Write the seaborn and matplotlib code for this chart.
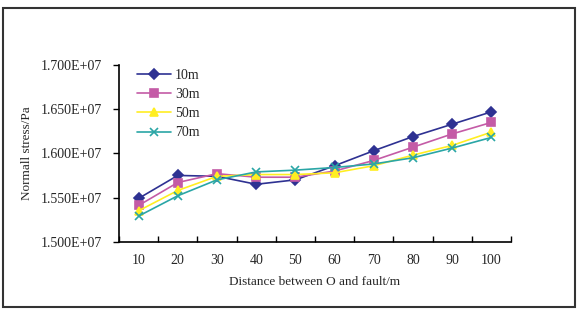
import numpy as np
import pandas as pd
import matplotlib.pyplot as plt
import seaborn as sns
from matplotlib.patches import Rectangle

# distance between O and fault (m)
distances = [10, 20, 30, 40, 50, 60, 70, 80, 90, 100]
series_names = ['10m', '30m', '50m', '70m']

# normal stress, Pa
stress_10m = [1.549e7, 1.575e7, 1.574e7, 1.565e7, 1.570e7, 1.586e7, 1.603e7, 1.619e7, 1.633e7, 1.647e7]
stress_30m = [1.541e7, 1.567e7, 1.577e7, 1.573e7, 1.573e7, 1.580e7, 1.592e7, 1.607e7, 1.622e7, 1.635e7]
stress_50m = [1.535e7, 1.558e7, 1.574e7, 1.576e7, 1.576e7, 1.578e7, 1.586e7, 1.598e7, 1.609e7, 1.624e7]
stress_70m = [1.529e7, 1.552e7, 1.570e7, 1.579e7, 1.581e7, 1.584e7, 1.588e7, 1.595e7, 1.606e7, 1.618e7]

y_ticks = [1.50e7, 1.55e7, 1.60e7, 1.65e7, 1.70e7]
y_tick_labels = ['1.500E+07', '1.550E+07', '1.600E+07', '1.650E+07', '1.700E+07']

df = pd.DataFrame({
    'pos': list(range(len(distances))) * 4,
    'stress': stress_10m + stress_30m + stress_50m + stress_70m,
    'series': [s for s in series_names for _ in distances],
})

sns.set_style('white')
plt.rcParams['font.family'] = ['Liberation Serif', 'DejaVu Serif']

colors = {'10m': '#2e3192', '30m': '#c45ba6', '50m': '#ffee22', '70m': '#2aa6a6'}
markers = {'10m': 'D', '30m': 's', '50m': '^', '70m': 'x'}
msizes = {'10m': 5.5, '30m': 5.5, '50m': 6, '70m': 5.5}

fig = plt.figure(figsize=(5.82, 3.16), dpi=100)
ax = fig.add_axes([119 / 582, 1 - 241.7 / 316, (511 - 119) / 582, (241.7 - 65) / 316])

# one lineplot per series (filled and line markers can't share a style map)
for name in series_names:
    sub = df[df['series'] == name]
    sns.lineplot(data=sub, x='pos', y='stress', color=colors[name], marker=markers[name],
                 markersize=msizes[name], markeredgewidth=1.2, markeredgecolor=colors[name],
                 linewidth=1.2, label=name, ax=ax)

ax.set_xlim(-0.5, len(distances) - 0.5)
ax.set_ylim(1.5e7, 1.7e7)
ax.set_xticks(range(len(distances)))
ax.set_xticklabels([str(d) for d in distances], fontsize=10)
ax.set_xticks(np.arange(-0.5, len(distances), 1), minor=True)
ax.tick_params(axis='x', which='major', length=0, pad=9)
ax.tick_params(axis='x', which='minor', direction='in', length=4, width=1, color='black', bottom=True)
ax.set_yticks(y_ticks)
ax.set_yticklabels(y_tick_labels, fontsize=10)
ax.tick_params(axis='y', direction='out', length=4, width=1, color='black', left=True, pad=8)

for side in ['top', 'right']:
    ax.spines[side].set_visible(False)
for side in ['left', 'bottom']:
    ax.spines[side].set_color('black')
    ax.spines[side].set_linewidth(1.2)

ax.set_xlabel('Distance between O and fault/m', fontsize=9.5, labelpad=6)
ax.set_ylabel('Normall stress/Pa', fontsize=9.5, labelpad=6)

ax.legend(loc='upper left', frameon=False, fontsize=10,
          handlelength=2.4, handletextpad=0.3, labelspacing=0.45,
          bbox_to_anchor=(0.015, 1.05))

# outer chart frame
fig.patches.append(Rectangle((3 / 582, 1 - 307 / 316), 572 / 582, 299 / 316,
                             transform=fig.transFigure, fill=False,
                             edgecolor='#333333', linewidth=1.5))

fig.savefig('out.png', dpi=100)
